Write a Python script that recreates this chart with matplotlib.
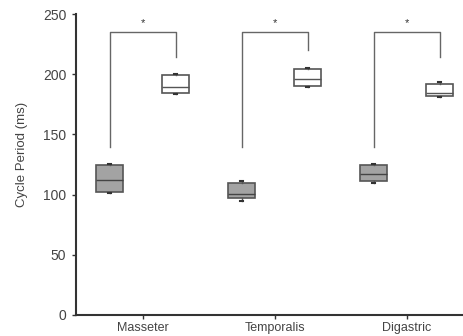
import numpy as np
import matplotlib
matplotlib.use("Agg")
import matplotlib.pyplot as plt

plt.rcParams['font.family'] = ['Liberation Sans', 'DejaVu Sans']

musculos = ["Masseter", "Temporalis", "Digastric"]

# grupo gris (izquierda)
gris_wlo = [101, 95, 109.6]
gris_q1 = [102.2, 97.2, 111]
gris_med = [111.9, 100.8, 116.9]
gris_q3 = [124.3, 109.4, 124.3]
gris_whi = [125.1, 111.5, 125.4]

# grupo blanco (derecha)
blanco_wlo = [183.3, 189.4, 180.8]
blanco_q1 = [184.1, 190.4, 181.6]
blanco_med = [189.4, 196.3, 184.4]
blanco_q3 = [199, 204.3, 191.6]
blanco_whi = [200.2, 205.4, 193.3]

# corchetes de significancia
corchete_top = [235.3, 235.3, 235.3]
corchete_izq = [139.8, 139.8, 139.8]
corchete_der = [214.5, 220.1, 214.5]
estrellas = ["*", "*", "*"]

fig = plt.figure(figsize=(4.64, 3.36), dpi=100)
ax = fig.add_axes([0.1638, 0.0625, 0.8362, 0.8958])

pos = np.arange(1, len(musculos) + 1)
gris_stats = []
blanco_stats = []
for i in range(len(musculos)):
    gris_stats.append(dict(whislo=gris_wlo[i], q1=gris_q1[i], med=gris_med[i],
                           q3=gris_q3[i], whishi=gris_whi[i], fliers=[]))
    blanco_stats.append(dict(whislo=blanco_wlo[i], q1=blanco_q1[i], med=blanco_med[i],
                             q3=blanco_q3[i], whishi=blanco_whi[i], fliers=[]))

ax.bxp(gris_stats, positions=pos - 0.25, widths=0.205, patch_artist=True,
       showfliers=False, capwidths=0.02,
       boxprops=dict(facecolor="#a3a3a3", edgecolor="#555555", linewidth=1.2),
       medianprops=dict(color="#444444", linewidth=1),
       whiskerprops=dict(color="#555555", linewidth=1),
       capprops=dict(color="#333333", linewidth=1.5))
ax.bxp(blanco_stats, positions=pos + 0.25, widths=0.205, patch_artist=True,
       showfliers=False, capwidths=0.02,
       boxprops=dict(facecolor="white", edgecolor="#555555", linewidth=1.2),
       medianprops=dict(color="#555555", linewidth=1),
       whiskerprops=dict(color="#555555", linewidth=1),
       capprops=dict(color="#333333", linewidth=1.5))

for i in range(len(musculos)):
    xl = pos[i] - 0.25
    xr = pos[i] + 0.25
    ax.plot([xl, xl, xr, xr], [corchete_izq[i], corchete_top[i], corchete_top[i], corchete_der[i]],
            color="#666666", linewidth=1)
    ax.text(pos[i], corchete_top[i] + 3, estrellas[i], ha="center", va="bottom",
            fontsize=8, color="#333333")

ax.set_xlim(0.495, 3.434)
ax.set_ylim(0, 250)
ax.set_yticks([0, 50, 100, 150, 200, 250])
ax.set_xticks(pos)
ax.set_xticklabels(musculos)
ax.set_ylabel("Cycle Period (ms)", fontsize=9.5, color="#444444")
ax.yaxis.set_label_coords(-0.125, 0.535)

for s in ["top", "right"]:
    ax.spines[s].set_visible(False)
for s in ["left", "bottom"]:
    ax.spines[s].set_color("#333333")
    ax.spines[s].set_linewidth(1.5)
ax.tick_params(axis="both", colors="#333333", labelcolor="#444444", length=3, width=1)
ax.tick_params(axis="y", labelsize=10, pad=4)
ax.tick_params(axis="x", labelsize=9, pad=2)

fig.savefig("out.png", dpi=100)
